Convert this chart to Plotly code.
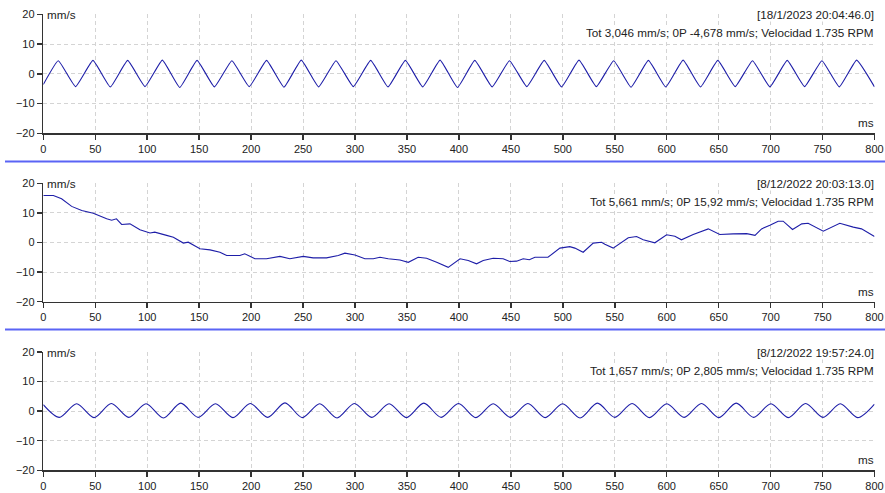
import plotly.graph_objects as go

# ---------------- data ----------------
x_tick_vals = [0, 50, 100, 150, 200, 250, 300, 350, 400, 450, 500, 550, 600, 650, 700, 750, 800]
y_tick_vals = [-20, -10, 0, 10, 20]

stamps = ["[18/1/2023 20:04:46.0]", "[8/12/2022 20:03:13.0]", "[8/12/2022 19:57:24.0]"]
summaries = [
    "Tot 3,046 mm/s; 0P -4,678 mm/s; Velocidad 1.735 RPM",
    "Tot 5,661 mm/s; 0P 15,92 mm/s; Velocidad 1.735 RPM",
    "Tot 1,657 mm/s; 0P 2,805 mm/s; Velocidad 1.735 RPM",
]

# Wave 1 (top): peaks / troughs (ms, mm/s)
w1_peak_t = [14.4, 47.8, 81.2, 114.6, 148.0, 181.5, 214.9, 248.3, 281.7, 315.1, 348.5, 381.9,
             415.3, 448.7, 482.1, 515.6, 549.0, 582.4, 615.8, 649.2, 682.6, 716.0, 749.4, 782.8]
w1_peak_v = [4.4, 4.5, 4.5, 4.6, 4.5, 4.4, 4.5, 4.6, 4.4, 4.5, 4.5, 4.6,
             4.5, 4.4, 4.5, 4.6, 4.4, 4.5, 4.6, 4.5, 4.4, 4.5, 4.4, 4.6]
w1_trough_t = [31.1, 64.5, 97.9, 131.3, 164.7, 198.2, 231.6, 265.0, 298.4, 331.8, 365.2, 398.6,
               432.0, 465.4, 498.8, 532.3, 565.7, 599.1, 632.5, 665.9, 699.3, 732.7, 766.1]
w1_trough_v = [-4.3, -4.4, -4.3, -4.6, -4.4, -4.3, -4.5, -4.4, -4.3, -4.4, -4.4, -4.6,
               -4.4, -4.3, -4.4, -4.3, -4.5, -4.4, -4.4, -4.3, -4.4, -4.3, -4.4]
w1_edge_t = [0, 800]
w1_edge_v = [-3.6, -4.4]

# Wave 2 (middle): slow drift (ms, mm/s)
w2_t = [0, 9.7, 17.6, 27.3, 37.0, 48.1, 61.0, 65.8, 70.4, 75.4, 83.4, 93.0, 102.7, 107.3, 118.7,
        125.2, 134.8, 139.5, 150.8, 160.5, 170.0, 176.5, 189.2, 193.9, 203.7, 214.8, 227.8, 237.3,
        250.2, 259.7, 272.6, 283.9, 290.3, 299.9, 309.5, 317.6, 324.0, 332.0, 343.3, 351.3, 360.8,
        368.9, 378.6, 389.7, 401.1, 409.0, 417.0, 423.4, 433.0, 442.6, 448.9, 455.5, 461.9, 467.8,
        473.2, 485.7, 497.2, 506.7, 511.6, 519.6, 529.3, 537.3, 540.5, 548.5, 563.0, 571.0, 577.4,
        588.6, 599.9, 607.9, 614.2, 625.5, 640.0, 651.1, 664.0, 677.0, 685.0, 691.3, 699.3, 707.3,
        712.1, 721.1, 730.0, 736.1, 750.7, 766.6, 779.6, 787.5, 800]
w2_v = [15.9, 15.9, 14.8, 12.2, 10.8, 9.9, 8.0, 7.5, 8.0, 6.1, 6.3, 4.3, 3.2, 3.5, 2.4,
        1.8, -0.2, 0.1, -2.1, -2.5, -3.3, -4.4, -4.4, -3.8, -5.5, -5.5, -4.7, -5.5,
        -4.7, -5.2, -5.2, -4.4, -3.6, -4.2, -5.5, -5.5, -5.0, -5.5, -5.9, -6.7, -5.0,
        -5.3, -6.7, -8.4, -5.5, -6.1, -7.2, -6.1, -5.3, -5.5, -6.4, -6.3, -5.5, -5.8,
        -5.0, -5.0, -1.9, -1.4, -1.9, -3.3, -0.2, 0.1, -0.6, -1.9, 1.6, 2.0, 0.9,
        -0.1, 2.6, 2.1, 0.9, 2.7, 4.6, 2.7, 2.9, 3.0, 2.4, 4.6, 5.8, 7.2,
        7.2, 4.4, 6.3, 6.5, 3.8, 6.5, 5.2, 4.6, 2.0]

# Wave 3 (bottom): peaks / troughs (ms, mm/s)
w3_peak_t = [32.1, 65.5, 98.9, 132.3, 165.7, 199.2, 232.6, 266.0, 299.4, 332.8, 366.2, 399.6,
             433.0, 466.4, 499.8, 533.3, 566.7, 600.1, 633.5, 666.9, 700.3, 733.7, 767.1]
w3_peak_v = [2.5, 2.6, 2.5, 2.7, 2.5, 2.6, 2.8, 2.5, 2.6, 2.5, 2.7, 2.6,
             2.5, 2.6, 2.5, 2.7, 2.6, 2.5, 2.6, 2.7, 2.5, 2.6, 2.5]
w3_trough_t = [15.4, 48.8, 82.2, 115.6, 149.0, 182.5, 215.9, 249.3, 282.7, 316.1, 349.5, 382.9,
               416.3, 449.7, 483.1, 516.6, 550.0, 583.4, 616.8, 650.2, 683.6, 717.0, 750.4, 783.8]
w3_trough_v = [-2.1, -2.2, -2.1, -2.3, -2.1, -2.2, -2.1, -2.2, -2.3, -2.1, -2.2, -2.1,
               -2.2, -2.1, -2.2, -2.3, -2.1, -2.2, -2.1, -2.2, -2.1, -2.2, -2.1, -2.2]
w3_edge_t = [0, 800]
w3_edge_v = [2.2, 2.4]


def merge(*pairs):
    pts = []
    for ts, vs in pairs:
        pts.extend(zip(ts, vs))
    pts.sort()
    return [p[0] for p in pts], [p[1] for p in pts]


w1_t, w1_v = merge((w1_peak_t, w1_peak_v), (w1_trough_t, w1_trough_v), (w1_edge_t, w1_edge_v))
w3_t, w3_v = merge((w3_peak_t, w3_peak_v), (w3_trough_t, w3_trough_v), (w3_edge_t, w3_edge_v))

# ---------------- figure ----------------
W, H = 885, 493
FONT = "Liberation Sans, Arial, sans-serif"
LINE = "#1e1ea8"
AXC = "#333333"
GRID = "#d4d4d4"
ANN_SIZE = 11.7

x_dom = [43.3 / W, 874.5 / W]
y_doms = [
    [(H - 133.3) / H, (H - 14.3) / H],
    [(H - 301.7) / H, (H - 183.3) / H],
    [(H - 470.3) / H, (H - 352.0) / H],
]

fig = go.Figure()
series = [(w1_t, w1_v, 0.35), (w2_t, w2_v, None), (w3_t, w3_v, 0.85)]
for i, (t, v, sm) in enumerate(series):
    sfx = "" if i == 0 else str(i + 1)
    line = dict(color=LINE, width=1.1, shape="linear")
    if sm is not None:
        line["shape"] = "spline"
        line["smoothing"] = sm
    fig.add_trace(go.Scatter(x=t, y=v, mode="lines", line=line,
                             xaxis="x" + sfx, yaxis="y" + sfx, showlegend=False, hoverinfo="skip"))

layout = dict(
    width=W, height=H, autosize=False,
    margin=dict(l=0, r=0, t=0, b=0, pad=0, autoexpand=False),
    paper_bgcolor="white", plot_bgcolor="white",
    font=dict(family=FONT, size=11, color="#222222"),
    showlegend=False,
)
annotations = []
shapes = []
for i in range(3):
    sfx = "" if i == 0 else str(i + 1)
    common = dict(
        showline=True, linecolor=AXC, linewidth=1.5, ticks="outside", ticklen=5,
        tickwidth=1.5, tickcolor=AXC, showgrid=True, gridcolor=GRID, griddash="4px,3px",
        gridwidth=1, zeroline=False, tickfont=dict(size=11, color="#222222"),
        fixedrange=True, automargin=False,
    )
    layout["xaxis" + sfx] = dict(domain=x_dom, anchor="y" + sfx, range=[0, 800],
                                 tickvals=x_tick_vals, **common)
    layout["yaxis" + sfx] = dict(domain=y_doms[i], anchor="x" + sfx, range=[-20, 20],
                                 tickvals=y_tick_vals, **common)
    xr, yr = "x" + sfx, "y" + sfx
    afont = dict(size=ANN_SIZE, color="#222222")
    annotations += [
        dict(xref=xr, yref=yr, x=0, y=20, text="mm/s", showarrow=False, xanchor="left",
             yanchor="middle", xshift=3, bgcolor="white", borderpad=0, font=afont),
        dict(xref=xr, yref=yr, x=800, y=-20, text="ms", showarrow=False, xanchor="right",
             yanchor="bottom", yshift=3, bgcolor="white", borderpad=0, font=afont),
        dict(xref=xr, yref=yr, x=800, y=20, text=stamps[i], showarrow=False, xanchor="right",
             yanchor="middle", bgcolor="white", borderpad=0, font=afont),
        dict(xref=xr, yref=yr, x=800, y=20, text=summaries[i], showarrow=False, xanchor="right",
             yanchor="middle", yshift=-18, bgcolor="white", borderpad=0, font=afont),
    ]

for ypix in [161.5, 329.5]:
    shapes.append(dict(type="line", xref="paper", yref="paper", x0=5 / W, x1=1,
                       y0=(H - ypix) / H, y1=(H - ypix) / H,
                       line=dict(color="#5a64f5", width=2)))

layout["annotations"] = annotations
layout["shapes"] = shapes
fig.update_layout(**layout)
fig.write_html("out.html", config={"displayModeBar": False, "staticPlot": True},
               post_script="document.body.style.margin='0';document.body.style.overflow='hidden';")
